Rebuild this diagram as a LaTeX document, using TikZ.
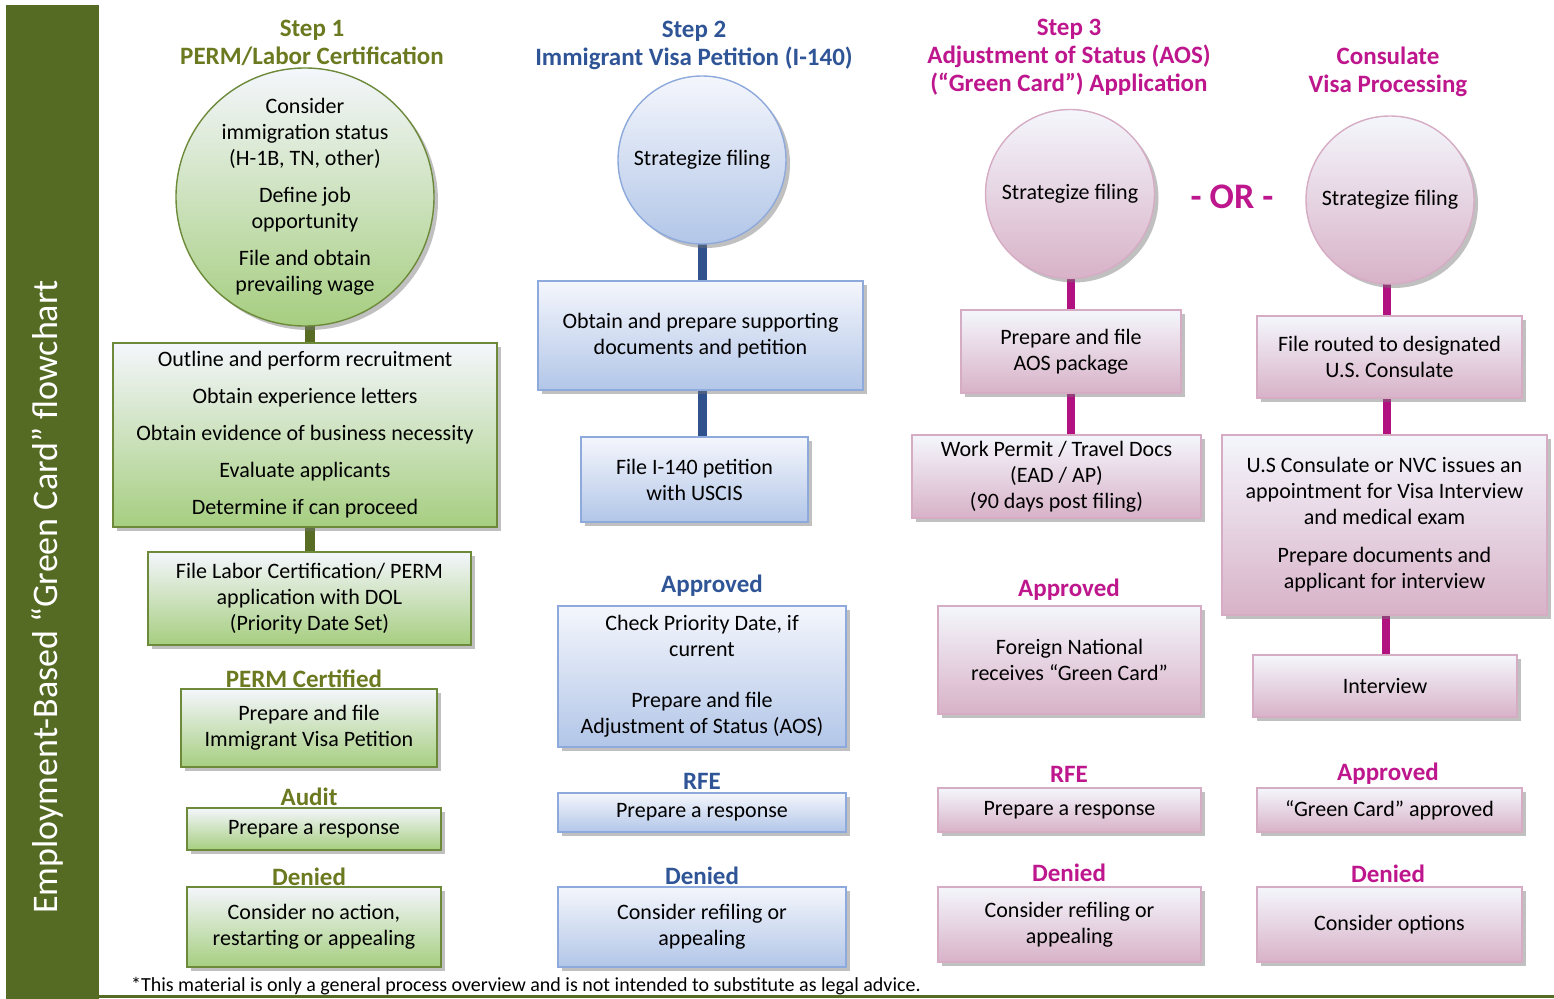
\documentclass[tikz,border=0pt]{standalone}
\usepackage{fontspec}
\setmainfont{Carlito}
\usetikzlibrary{shadows, backgrounds, calc}

\definecolor{bargreen}{RGB}{85,107,35}
\definecolor{gtitle}{RGB}{107,122,32}
\definecolor{gline}{RGB}{88,108,36}
\definecolor{gborder}{RGB}{108,138,58}
\definecolor{gbottom}{RGB}{166,206,128}
\definecolor{btitle}{RGB}{47,85,151}
\definecolor{bline}{RGB}{47,82,143}
\definecolor{bborder}{RGB}{142,169,219}
\definecolor{bbottom}{RGB}{178,198,232}
\definecolor{ptitle}{RGB}{190,22,140}
\definecolor{pline}{RGB}{178,18,128}
\definecolor{pborder}{RGB}{214,172,196}
\definecolor{pbottom}{RGB}{216,178,200}
\definecolor{boxtop}{RGB}{244,246,252}

\newcommand{\bodyfont}{\fontsize{11}{13}\selectfont}
\newcommand{\headfont}{\fontsize{12.5}{14}\selectfont\bfseries}

\tikzset{
    wh/.style 2 args = {minimum width = #1*0.5pt, minimum height = #2*0.5pt},
    boxshadow/.style = {drop shadow = {shadow xshift = 2pt, shadow yshift = -2pt, opacity = 0.45, fill = black!55}},
    basebox/.style = {rectangle, line width = 0.7pt, top color = boxtop, align = center, inner sep = 0pt, font = \bodyfont, boxshadow},
    greenbox/.style = {basebox, draw = gborder, bottom color = gbottom},
    bluebox/.style = {basebox, draw = bborder, bottom color = bbottom},
    pinkbox/.style = {basebox, draw = pborder, bottom color = pbottom},
    greenball/.style = {greenbox, circle},
    blueball/.style = {bluebox, circle},
    pinkball/.style = {pinkbox, circle},
    greenhead/.style = {font = \headfont, text = gtitle, align = center},
    bluehead/.style = {font = \headfont, text = btitle, align = center},
    pinkhead/.style = {font = \headfont, text = ptitle, align = center},
    greenlink/.style = {draw = gline, line width = 5pt},
    bluelink/.style = {draw = bline, line width = 4.5pt},
    pinklink/.style = {draw = pline, line width = 4pt}
}

\begin{document}
\begin{tikzpicture}[x = 0.5pt, y = -0.5pt]
    \useasboundingbox (0,0) rectangle (1554,999);

    % side bar and bottom rule
    \fill [bargreen] (6,5) rectangle (99,999);
    \draw [bargreen, line width = 1.5pt] (99,996) -- (1554,996);
    \node (bartext) [rotate = 90, text = white, font = \fontsize{18}{20}\selectfont] at (47,597) {Employment-Based “Green Card” flowchart};

    % step 1
    \node (s1head) [greenhead] at (312,43) {Step 1\\PERM/Labor Certification};
    \node (c1) [greenball, minimum size = 129pt] at (305,197) {Consider\\immigration status\\(H-1B, TN, other)\\[5.5pt]Define job\\opportunity\\[5.5pt]File and obtain\\prevailing wage};
    \node (b11) [greenbox, wh = {384}{184}] at (305,435) {Outline and perform recruitment\\[5.5pt]Obtain experience letters\\[5.5pt]Obtain evidence of business necessity\\[5.5pt]Evaluate applicants\\[5.5pt]Determine if can proceed};
    \node (b12) [greenbox, wh = {323}{93}] at (309.5,598.5) {File Labor Certification/ PERM\\application with DOL\\(Priority Date Set)};
    \node (l13) [greenhead] at (304,679) {PERM Certified};
    \node (b13) [greenbox, wh = {256}{78}] at (309,728) {Prepare and file\\Immigrant Visa Petition};
    \node (l14) [greenhead] at (309,797) {Audit};
    \node (b14) [greenbox, wh = {254}{42}] at (314,829) {Prepare a response};
    \node (l15) [greenhead] at (309,877) {Denied};
    \node (b15) [greenbox, wh = {254}{80}] at (314,927) {Consider no action,\\restarting or appealing};

    % step 2
    \node (s2head) [bluehead] at (694,45) {Step 2\\Immigrant Visa Petition (I-140)};
    \node (c2) [blueball, minimum size = 84pt] at (702,160) {Strategize filing};
    \node (b21) [bluebox, wh = {325}{109}] at (700.5,335.5) {Obtain and prepare supporting\\documents and petition};
    \node (b22) [bluebox, wh = {227}{85}] at (694.5,479.5) {File I-140 petition\\with USCIS};
    \node (l23) [bluehead] at (712,586) {Approved};
    \node (b23) [bluebox, wh = {288}{141}] at (702,676.5) {Check Priority Date, if\\current\\[12.5pt]Prepare and file\\Adjustment of Status (AOS)};
    \node (l24) [bluehead] at (702,781) {RFE};
    \node (b24) [bluebox, wh = {288}{39}] at (702,812.5) {Prepare a response};
    \node (l25) [bluehead] at (702,876) {Denied};
    \node (b25) [bluebox, wh = {288}{80}] at (702,927) {Consider refiling or\\appealing};

    % step 3
    \node (s3head) [pinkhead] at (1069,57) {Step 3\\Adjustment of Status (AOS)\\(“Green Card”) Application};
    \node (c3) [pinkball, minimum size = 84.5pt] at (1070,194) {Strategize filing};
    \node (b31) [pinkbox, wh = {220}{83}] at (1071,351.5) {Prepare and file\\AOS package};
    \node (b32) [pinkbox, wh = {289}{83}] at (1056.5,476.5) {Work Permit / Travel Docs\\(EAD / AP)\\(90 days post filing)};
    \node (l33) [pinkhead] at (1069,590) {Approved};
    \node (b33) [pinkbox, wh = {263}{108}] at (1069.5,660) {Foreign National\\receives “Green Card”};
    \node (l34) [pinkhead] at (1069,774) {RFE};
    \node (b34) [pinkbox, wh = {263}{44}] at (1069.5,810) {Prepare a response};
    \node (l35) [pinkhead] at (1069,873) {Denied};
    \node (b35) [pinkbox, wh = {263}{75}] at (1069.5,924.5) {Consider refiling or\\appealing};

    \node (or) [text = ptitle, font = \fontsize{18}{20}\selectfont\bfseries] at (1232,197) {- OR -};

    % consulate
    \node (s4head) [pinkhead] at (1388,72) {Consulate\\Visa Processing};
    \node (c4) [pinkball, minimum size = 84pt] at (1390,200) {Strategize filing};
    \node (b41) [pinkbox, wh = {265}{82}] at (1389.5,357) {File routed to designated\\U.S. Consulate};
    \node (b42) [pinkbox, wh = {325}{180}] at (1384.5,525) {U.S Consulate or NVC issues an\\appointment for Visa Interview\\and medical exam\\[6pt]Prepare documents and\\applicant for interview};
    \node (b43) [pinkbox, wh = {264}{62}] at (1385,686) {Interview};
    \node (l44) [pinkhead] at (1388,774) {Approved};
    \node (b44) [pinkbox, wh = {265}{44}] at (1389.5,810) {“Green Card” approved};
    \node (l45) [pinkhead] at (1388,874) {Denied};
    \node (b45) [pinkbox, wh = {265}{75}] at (1389.5,924.5) {Consider options};

    \node (note) [anchor = west, font = \fontsize{10}{11}\selectfont] at (124,986) {*This material is only a general process overview and is not intended to substitute as legal advice.};

    % connectors behind the boxes
    \begin{scope}[on background layer]
        \draw [greenlink] (c1.center -| b12) -- (b11.center -| b12);
        \draw [greenlink] (b11.center -| b12) -- (b12.center);
        \draw [bluelink] (c2.center) -- (c2.center |- b21.center);
        \draw [bluelink] (c2.center |- b21.center) -- (c2.center |- b22.center);
        \draw [pinklink] (c3.center -| b31) -- (b31.center);
        \draw [pinklink] (b31.center) -- (b31.center |- b32.center);
        \draw [pinklink] (c4.center -| 1387,0) -- (b41.center -| 1387,0);
        \draw [pinklink] (b41.center -| 1387,0) -- (b42.center -| 1387,0);
        \draw [pinklink] (b42.center -| 1386,0) -- (b43.center -| 1386,0);
    \end{scope}
\end{tikzpicture}
\end{document}
